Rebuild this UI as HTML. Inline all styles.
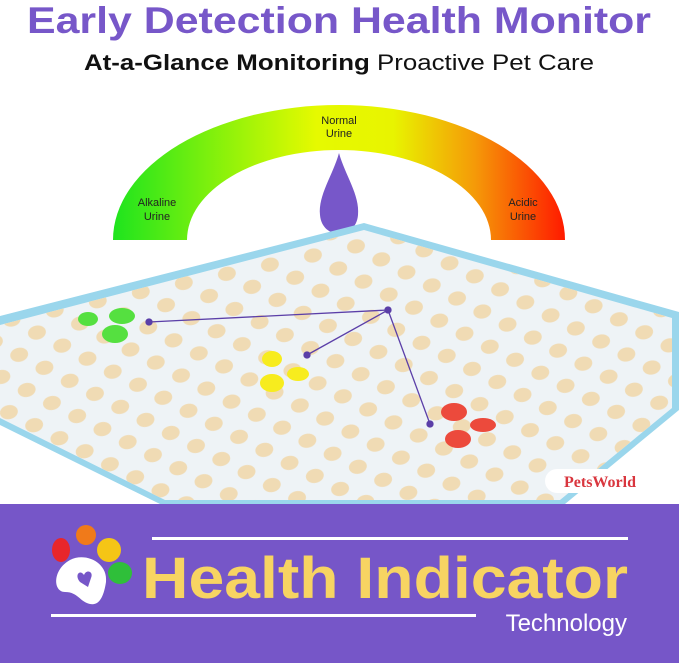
<!DOCTYPE html>
<html><head><meta charset="utf-8"><style>
body{margin:0;width:679px;height:663px;overflow:hidden;background:#fff;font-family:"Liberation Sans",sans-serif;position:relative}
</style></head><body>
<svg width="679" height="663" style="position:absolute;left:0;top:0">
<defs>
<linearGradient id="g" x1="113" x2="565" y1="0" y2="0" gradientUnits="userSpaceOnUse">
<stop offset="0" stop-color="#1ee41e"/><stop offset="0.25" stop-color="#8ef20a"/><stop offset="0.45" stop-color="#e6fa00"/><stop offset="0.62" stop-color="#e8f400"/><stop offset="0.8" stop-color="#f59a08"/><stop offset="1" stop-color="#ff1a00"/>
</linearGradient>
<pattern id="p" width="44" height="36" patternUnits="userSpaceOnUse" patternTransform="rotate(-12)">
<ellipse cx="11" cy="9" rx="9" ry="7" fill="#f0dbb4"/><ellipse cx="33" cy="27" rx="9" ry="7" fill="#f0dbb4"/>
</pattern>
</defs>
<text x="339" y="33" font-size="37" font-weight="bold" fill="#7757c9" text-anchor="middle" textLength="624" lengthAdjust="spacingAndGlyphs">Early Detection Health Monitor</text>
<text x="339" y="70" font-size="22" fill="#111" text-anchor="middle" textLength="510" lengthAdjust="spacingAndGlyphs"><tspan font-weight="bold">At-a-Glance Monitoring</tspan> Proactive Pet Care</text>
<path d="M113 240 A226 135 0 0 1 565 240 L491 240 A152 90 0 0 0 187 240 Z" fill="url(#g)"/>
<g font-size="11" fill="#222" text-anchor="middle">
<text x="339" y="124">Normal</text><text x="339" y="137">Urine</text>
<text x="157" y="206">Alkaline</text><text x="157" y="220">Urine</text>
<text x="523" y="206">Acidic</text><text x="523" y="220">Urine</text>
</g>
<path d="M339 153 C333 175 318 195 320 215 C322 240 356 240 358 215 C360 195 345 175 339 153 Z" fill="#7757c9"/>
<polygon points="364,223 679,312 679,410 565,504 160,504 0,425 0,316" fill="#9ad6ec"/>
<polygon points="364,230 672,318 672,408 560,500 165,500 0,418 0,325" fill="#eef3f6"/>
<polygon points="364,230 672,318 672,408 560,500 165,500 0,418 0,325" fill="url(#p)"/>
<g fill="#55e040"><ellipse cx="122" cy="316" rx="13" ry="8"/><ellipse cx="88" cy="319" rx="10" ry="7"/><ellipse cx="115" cy="334" rx="13" ry="9"/></g>
<g fill="#f7ec1e"><ellipse cx="272" cy="359" rx="10" ry="8"/><ellipse cx="298" cy="374" rx="11" ry="7"/><ellipse cx="272" cy="383" rx="12" ry="9"/></g>
<g fill="#ec4a3c"><ellipse cx="454" cy="412" rx="13" ry="9"/><ellipse cx="483" cy="425" rx="13" ry="7"/><ellipse cx="458" cy="439" rx="13" ry="9"/></g>
<g stroke="#5b3fa8" stroke-width="1.3" fill="#5b3fa8">
<line x1="388" y1="310" x2="149" y2="322"/><line x1="388" y1="310" x2="307" y2="355"/><line x1="388" y1="310" x2="430" y2="424"/>
<circle cx="388" cy="310" r="3"/><circle cx="149" cy="322" r="3"/><circle cx="307" cy="355" r="3"/><circle cx="430" cy="424" r="3"/>
</g>
<rect x="545" y="469" width="117" height="24" rx="12" fill="#fff"/>
<text x="600" y="487" font-size="16" font-weight="bold" fill="#d9363e" text-anchor="middle" font-family="Liberation Serif,serif">PetsWorld</text>
<rect x="0" y="504" width="679" height="159" fill="#7656c8"/>
<rect x="152" y="537" width="476" height="3" fill="#fff"/>
<rect x="51" y="614" width="425" height="3" fill="#fff"/>
<ellipse cx="61" cy="550" rx="9" ry="12" fill="#e8262b"/>
<ellipse cx="86" cy="535" rx="10" ry="10" fill="#f07a1a"/>
<ellipse cx="109" cy="550" rx="12" ry="12" fill="#f5c516"/>
<ellipse cx="120" cy="573" rx="12" ry="11" fill="#2fbf3a"/>
<path d="M70 560 C85 552 108 562 106 582 C104 595 100 606 90 604 C80 602 78 592 65 592 C53 592 52 570 70 560 Z" fill="#fff"/>
<path d="M84 575 C80 569 74 575 80 582 L88 587 L91 578 C94 571 86 569 84 575 Z" fill="#7656c8"/>
<text x="142" y="598" font-size="58" font-weight="bold" fill="#f7d462" textLength="486" lengthAdjust="spacingAndGlyphs">Health Indicator</text>
<text x="627" y="631" font-size="24" fill="#fff" text-anchor="end">Technology</text>
</svg>
</body></html>
